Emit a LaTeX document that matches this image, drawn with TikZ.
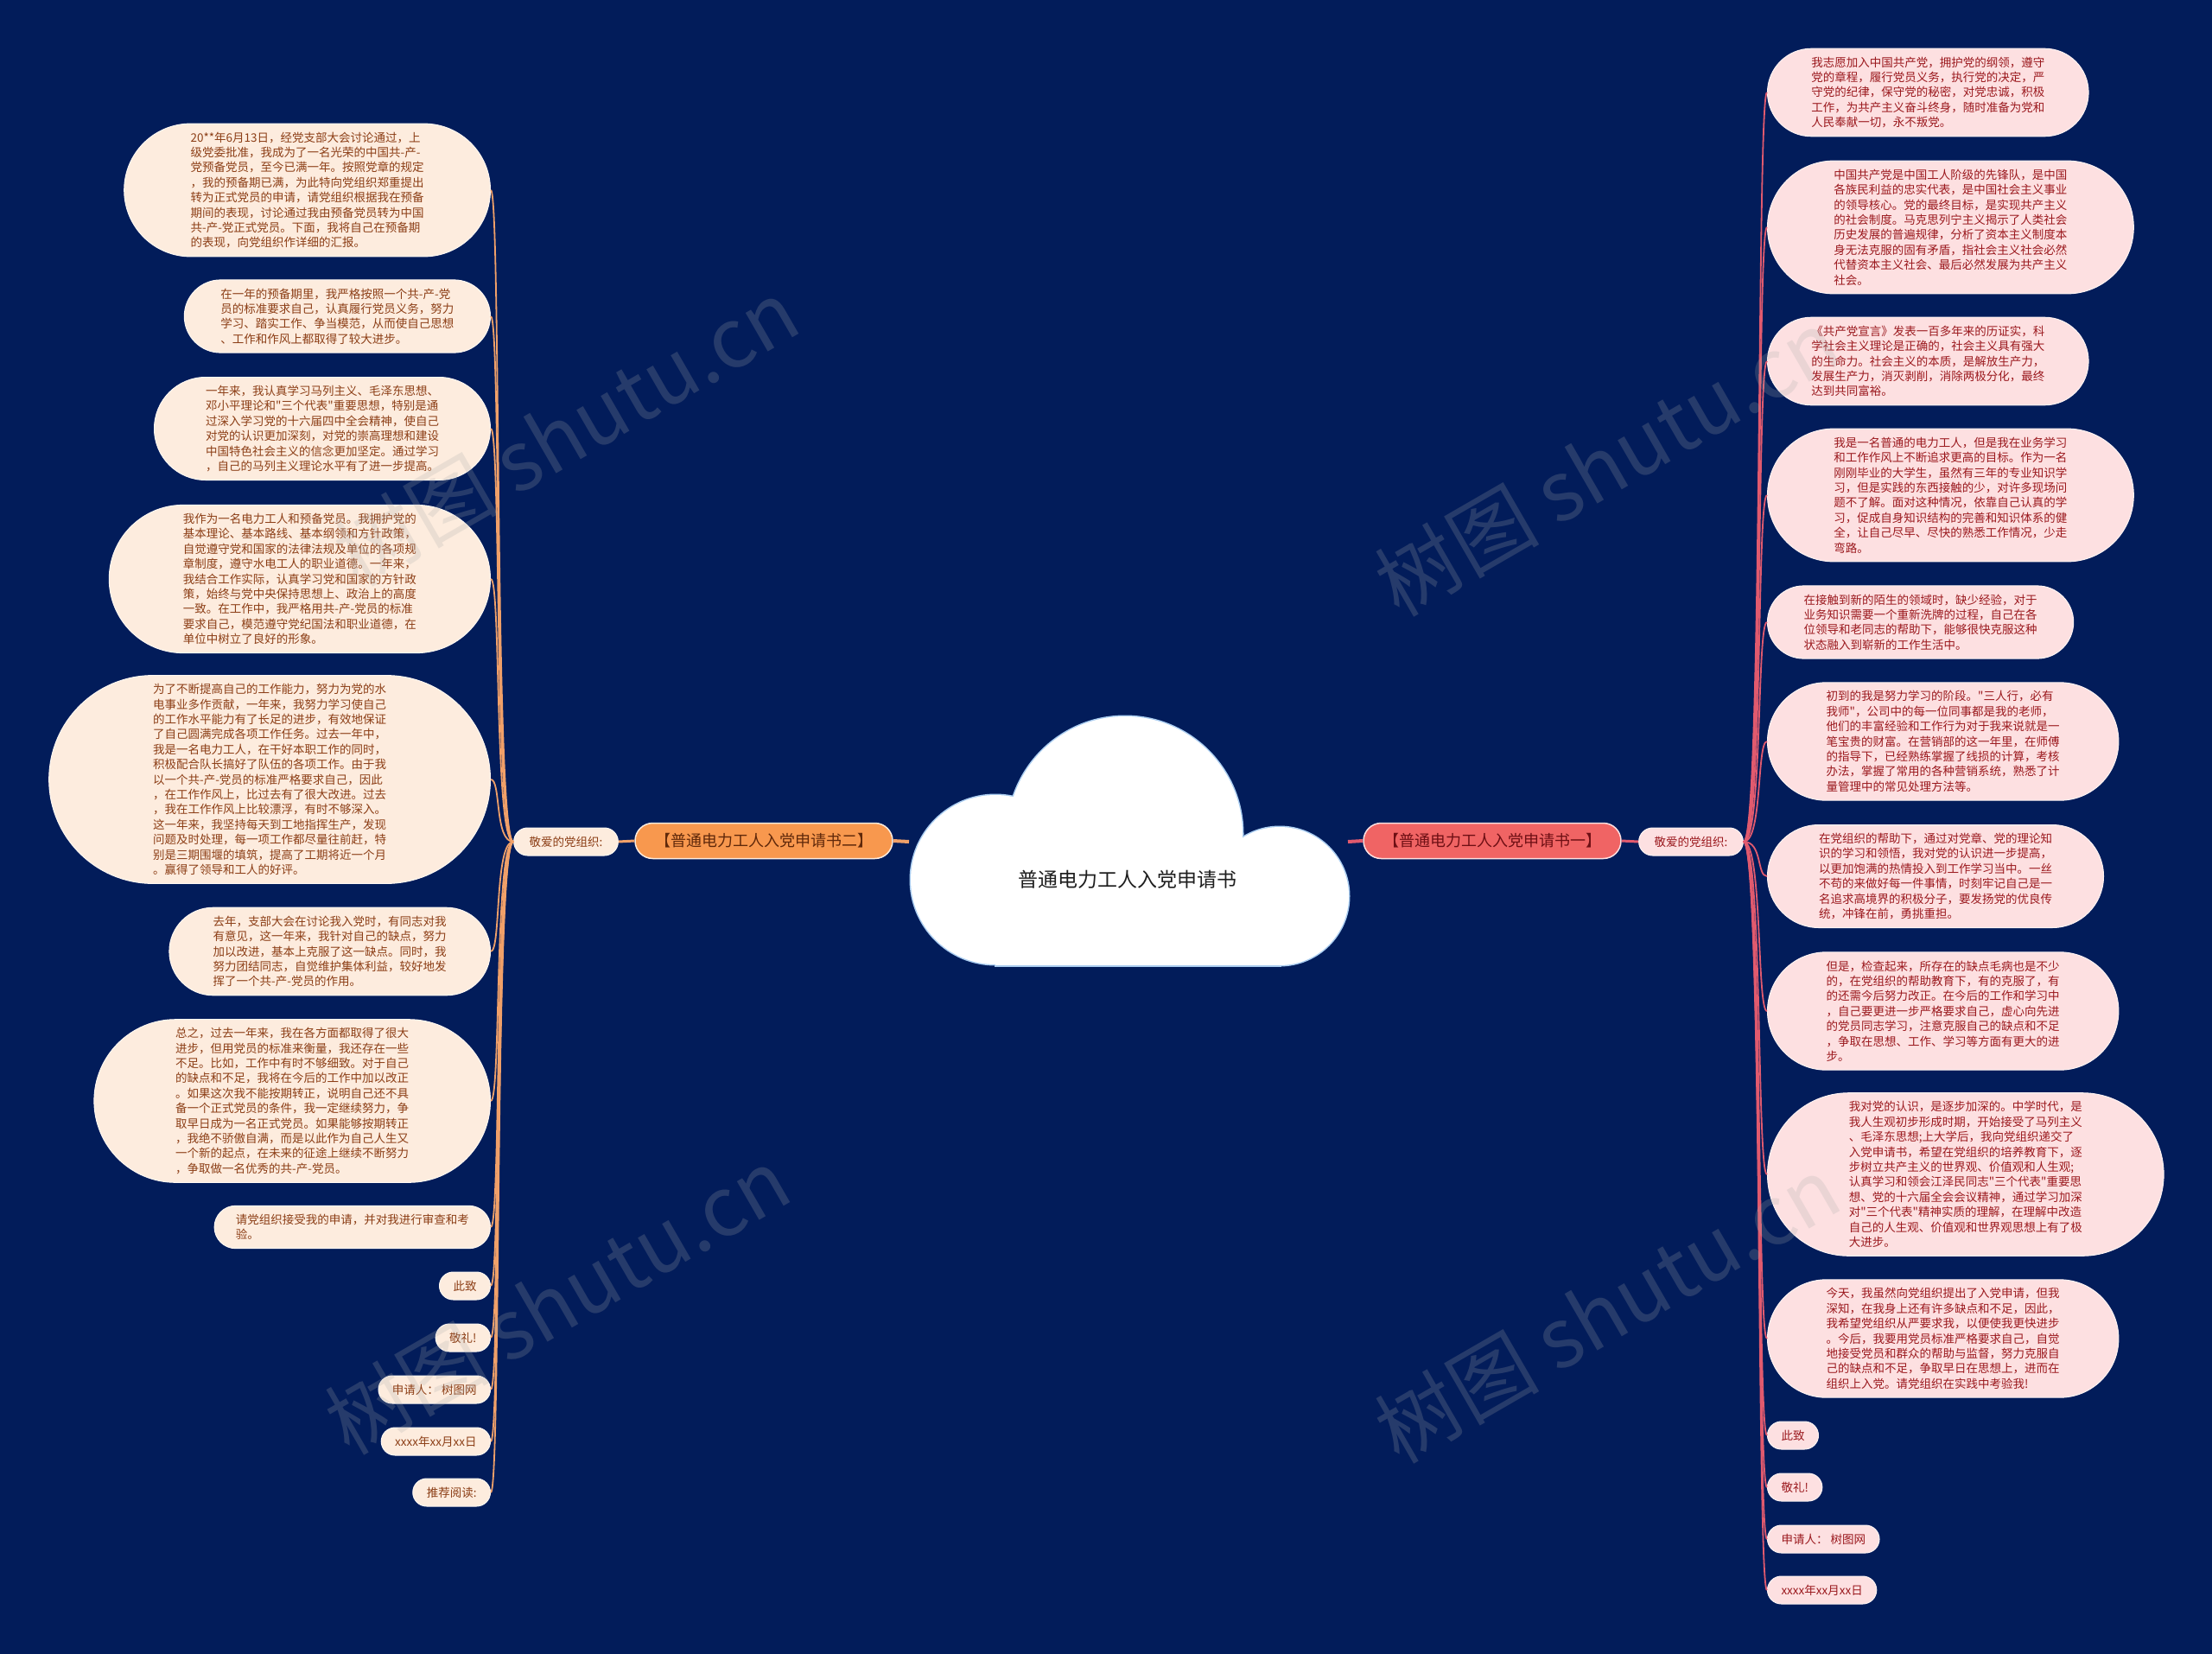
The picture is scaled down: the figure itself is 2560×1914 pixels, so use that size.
\documentclass[tikz,border=0pt]{standalone}
\usepackage{fontspec}
\newfontfamily\cjk{Noto Sans CJK SC}
\definecolor{bg}{RGB}{2,28,90}
\definecolor{lfill}{RGB}{253,236,222}
\definecolor{ltext}{RGB}{140,62,22}
\definecolor{rfill}{RGB}{253,224,225}
\definecolor{rtext}{RGB}{155,25,30}
\definecolor{lmain}{RGB}{248,152,78}
\definecolor{rmain}{RGB}{240,100,100}
\definecolor{lmaintext}{RGB}{95,40,10}
\definecolor{rmaintext}{RGB}{110,15,20}
\definecolor{lline}{RGB}{240,160,105}
\definecolor{rline}{RGB}{225,90,110}
\definecolor{cloudedge}{RGB}{170,205,240}
\definecolor{wmark}{RGB}{170,170,170}
\begin{document}
\begin{tikzpicture}[x=1pt,y=-1pt,
  leafbase/.style={rectangle, inner ysep=2pt, align=left, line width=1pt, font=\cjk\fontsize{13.5}{17.4}\selectfont},
  nl/.style={minimum height={(32+(#1-1)*17.4)*1pt}, inner xsep={(16+(#1-1)*8.7)*1pt}, rounded corners={(16+(#1-1)*8.7)*1pt}},
  leafL/.style={leafbase, nl=#1, fill=lfill, draw=white!60!lfill, text=ltext, anchor=east},
  leafR/.style={leafbase, nl=#1, fill=rfill, draw=white!60!rfill, text=rtext, anchor=west},
  mainbase/.style={rectangle, line width=1.5pt, inner xsep=23pt, inner ysep=2pt, minimum height=41pt, rounded corners=20.5pt, font=\cjk\fontsize{18}{22}\selectfont},
  mainL/.style={mainbase, fill=lmain, draw=lfill, text=lmaintext},
  mainR/.style={mainbase, fill=rmain, draw=rfill, text=rmaintext},
  kdbase/.style={rectangle, line width=1pt, inner xsep=18pt, inner ysep=2pt, minimum height=32pt, rounded corners=16pt, font=\cjk\fontsize{13.5}{17}\selectfont},
  kdL/.style={kdbase, fill=lfill, draw=white!60!lfill, text=ltext},
  kdR/.style={kdbase, fill=rfill, draw=white!60!rfill, text=rtext},
  curveL/.style={draw=lline, line width=1.8pt},
  curveR/.style={draw=rline, line width=1.8pt},
  trunkL/.style={draw=lline, line width=4pt},
  trunkR/.style={draw=rline, line width=4pt},
  wm/.style={text=wmark, opacity=0.22, font=\cjk\fontsize{95}{100}\selectfont, rotate=30},
  cloudpart/.style={draw=cloudedge, line width=3pt}
]
\useasboundingbox (0,0) rectangle (2560,1914);
\fill[bg] (0,0) rectangle (2560,1914);

% cloud
\path[cloudpart] (1152,1018) circle[radius=98pt];
\path[cloudpart] (1302,965) circle[radius=136pt];
\path[cloudpart] (1481,1037) circle[radius=80pt];
\path[cloudpart] (1152,1000) rectangle (1481,1117);
\fill[white] (1152,1018) circle[radius=98pt];
\fill[white] (1302,965) circle[radius=136pt];
\fill[white] (1481,1037) circle[radius=80pt];
\fill[white] (1152,1000) rectangle (1481,1117);
\node[font=\cjk\fontsize{23}{26}\selectfont, text={rgb,255:red,30;green,30;blue,30}] (root) at (1305,1018) {普通电力工人入党申请书};
\coordinate (cloudW) at (1052,974);
\coordinate (cloudE) at (1560,974);

% main branches
\node[mainL] (ml) at (884,973) {【普通电力工人入党申请书二】};
\node[mainR] (mr) at (1727,973) {【普通电力工人入党申请书一】};
\node[kdL] (kl) at (655,974) {敬爱的党组织:};
\node[kdR] (kr) at (1957,974) {敬爱的党组织:};

% left leaves
\node[leafL=8] (l1) at (568,220) {20**年6月13日，经党支部大会讨论通过，上\\级党委批准，我成为了一名光荣的中国共-产-\\党预备党员，至今已满一年。按照党章的规定\\，我的预备期已满，为此特向党组织郑重提出\\转为正式党员的申请，请党组织根据我在预备\\期间的表现，讨论通过我由预备党员转为中国\\共-产-党正式党员。下面，我将自己在预备期\\的表现，向党组织作详细的汇报。};
\node[leafL=4] (l2) at (568,366) {在一年的预备期里，我严格按照一个共-产-党\\员的标准要求自己，认真履行党员义务，努力\\学习、踏实工作、争当模范，从而使自己思想\\、工作和作风上都取得了较大进步。};
\node[leafL=6] (l3) at (568,496) {一年来，我认真学习马列主义、毛泽东思想、\\邓小平理论和"三个代表"重要思想，特别是通\\过深入学习党的十六届四中全会精神，使自己\\对党的认识更加深刻，对党的崇高理想和建设\\中国特色社会主义的信念更加坚定。通过学习\\，自己的马列主义理论水平有了进一步提高。};
\node[leafL=9] (l4) at (568,670) {我作为一名电力工人和预备党员。我拥护党的\\基本理论、基本路线、基本纲领和方针政策，\\自觉遵守党和国家的法律法规及单位的各项规\\章制度，遵守水电工人的职业道德。一年来，\\我结合工作实际，认真学习党和国家的方针政\\策，始终与党中央保持思想上、政治上的高度\\一致。在工作中，我严格用共-产-党员的标准\\要求自己，模范遵守党纪国法和职业道德，在\\单位中树立了良好的形象。};
\node[leafL=13] (l5) at (568,902) {为了不断提高自己的工作能力，努力为党的水\\电事业多作贡献，一年来，我努力学习使自己\\的工作水平能力有了长足的进步，有效地保证\\了自己圆满完成各项工作任务。过去一年中，\\我是一名电力工人，在干好本职工作的同时，\\积极配合队长搞好了队伍的各项工作。由于我\\以一个共-产-党员的标准严格要求自己，因此\\，在工作作风上，比过去有了很大改进。过去\\，我在工作作风上比较漂浮，有时不够深入。\\这一年来，我坚持每天到工地指挥生产，发现\\问题及时处理，每一项工作都尽量往前赶，特\\别是三期围堰的填筑，提高了工期将近一个月\\。赢得了领导和工人的好评。};
\node[leafL=5] (l6) at (568,1101) {去年，支部大会在讨论我入党时，有同志对我\\有意见，这一年来，我针对自己的缺点，努力\\加以改进，基本上克服了这一缺点。同时，我\\努力团结同志，自觉维护集体利益，较好地发\\挥了一个共-产-党员的作用。};
\node[leafL=10] (l7) at (568,1274) {总之，过去一年来，我在各方面都取得了很大\\进步，但用党员的标准来衡量，我还存在一些\\不足。比如，工作中有时不够细致。对于自己\\的缺点和不足，我将在今后的工作中加以改正\\。如果这次我不能按期转正，说明自己还不具\\备一个正式党员的条件，我一定继续努力，争\\取早日成为一名正式党员。如果能够按期转正\\，我绝不骄傲自满，而是以此作为自己人生又\\一个新的起点，在未来的征途上继续不断努力\\，争取做一名优秀的共-产-党员。};
\node[leafL=2] (l8) at (568,1420) {请党组织接受我的申请，并对我进行审查和考\\验。};
\node[leafL=1] (l9) at (568,1488) {此致};
\node[leafL=1] (l10) at (568,1548) {敬礼!};
\node[leafL=1] (l11) at (568,1608) {申请人： 树图网};
\node[leafL=1] (l12) at (568,1668) {xxxx年xx月xx日};
\node[leafL=1] (l13) at (568,1727) {推荐阅读:};

% right leaves
\node[leafR=5] (r1) at (2045,107) {我志愿加入中国共产党，拥护党的纲领，遵守\\党的章程，履行党员义务，执行党的决定，严\\守党的纪律，保守党的秘密，对党忠诚，积极\\工作，为共产主义奋斗终身，随时准备为党和\\人民奉献一切，永不叛党。};
\node[leafR=8] (r2) at (2045,263) {中国共产党是中国工人阶级的先锋队，是中国\\各族民利益的忠实代表，是中国社会主义事业\\的领导核心。党的最终目标，是实现共产主义\\的社会制度。马克思列宁主义揭示了人类社会\\历史发展的普遍规律，分析了资本主义制度本\\身无法克服的固有矛盾，指社会主义社会必然\\代替资本主义社会、最后必然发展为共产主义\\社会。};
\node[leafR=5] (r3) at (2045,418) {《共产党宣言》发表一百多年来的历证实，科\\学社会主义理论是正确的，社会主义具有强大\\的生命力。社会主义的本质，是解放生产力，\\发展生产力，消灭剥削，消除两极分化，最终\\达到共同富裕。};
\node[leafR=8] (r4) at (2045,573) {我是一名普通的电力工人，但是我在业务学习\\和工作作风上不断追求更高的目标。作为一名\\刚刚毕业的大学生，虽然有三年的专业知识学\\习，但是实践的东西接触的少，对许多现场问\\题不了解。面对这种情况，依靠自己认真的学\\习，促成自身知识结构的完善和知识体系的健\\全，让自己尽早、尽快的熟悉工作情况，少走\\弯路。};
\node[leafR=4] (r5) at (2045,720) {在接触到新的陌生的领域时，缺少经验，对于\\业务知识需要一个重新洗牌的过程，自己在各\\位领导和老同志的帮助下，能够很快克服这种\\状态融入到崭新的工作生活中。};
\node[leafR=7] (r6) at (2045,858) {初到的我是努力学习的阶段。"三人行，必有\\我师"，公司中的每一位同事都是我的老师，\\他们的丰富经验和工作行为对于我来说就是一\\笔宝贵的财富。在营销部的这一年里，在师傅\\的指导下，已经熟练掌握了线损的计算，考核\\办法，掌握了常用的各种营销系统，熟悉了计\\量管理中的常见处理方法等。};
\node[leafR=6] (r7) at (2045,1014) {在党组织的帮助下，通过对党章、党的理论知\\识的学习和领悟，我对党的认识进一步提高，\\以更加饱满的热情投入到工作学习当中。一丝\\不苟的来做好每一件事情，时刻牢记自己是一\\名追求高境界的积极分子，要发扬党的优良传\\统，冲锋在前，勇挑重担。};
\node[leafR=7] (r8) at (2045,1170) {但是，检查起来，所存在的缺点毛病也是不少\\的，在党组织的帮助教育下，有的克服了，有\\的还需今后努力改正。在今后的工作和学习中\\，自己要更进一步严格要求自己，虚心向先进\\的党员同志学习，注意克服自己的缺点和不足\\，争取在思想、工作、学习等方面有更大的进\\步。};
\node[leafR=10] (r9) at (2045,1359) {我对党的认识，是逐步加深的。中学时代，是\\我人生观初步形成时期，开始接受了马列主义\\、毛泽东思想;上大学后，我向党组织递交了\\入党申请书，希望在党组织的培养教育下，逐\\步树立共产主义的世界观、价值观和人生观;\\认真学习和领会江泽民同志"三个代表"重要思\\想、党的十六届全会会议精神，通过学习加深\\对"三个代表"精神实质的理解，在理解中改造\\自己的人生观、价值观和世界观思想上有了极\\大进步。};
\node[leafR=7] (r10) at (2045,1549) {今天，我虽然向党组织提出了入党申请，但我\\深知，在我身上还有许多缺点和不足，因此，\\我希望党组织从严要求我，以便使我更快进步\\。今后，我要用党员标准严格要求自己，自觉\\地接受党员和群众的帮助与监督，努力克服自\\己的缺点和不足，争取早日在思想上，进而在\\组织上入党。请党组织在实践中考验我!};
\node[leafR=1] (r11) at (2045,1661) {此致};
\node[leafR=1] (r12) at (2045,1721) {敬礼!};
\node[leafR=1] (r13) at (2045,1781) {申请人： 树图网};
\node[leafR=1] (r14) at (2045,1840) {xxxx年xx月xx日};

% connectors
\draw[trunkL] (cloudW) -- (ml.east);
\draw[trunkR] (cloudE) -- (mr.west);
\draw[curveL, line width=3pt] (ml.west) -- (kl.east);
\draw[curveR, line width=3pt] (mr.east) -- (kr.west);
\foreach \n in {l1,l2,l3,l4,l5,l6,l7,l8,l9,l10,l11,l12,l13}
  \draw[curveL] (kl.west) .. controls +(-22,0) and +(12,0) .. (\n.east);
\foreach \n in {r1,r2,r3,r4,r5,r6,r7,r8,r9,r10,r11,r12,r13,r14}
  \draw[curveR] (kr.east) .. controls +(22,0) and +(-12,0) .. (\n.west);

% watermarks
\node[wm] (w1) at (655,500) {树图 shutu.cn};
\node[wm] (w2) at (645,1505) {树图 shutu.cn};
\node[wm] (w3) at (1860,535) {树图 shutu.cn};
\node[wm] (w4) at (1860,1515) {树图 shutu.cn};
\end{tikzpicture}
\end{document}
